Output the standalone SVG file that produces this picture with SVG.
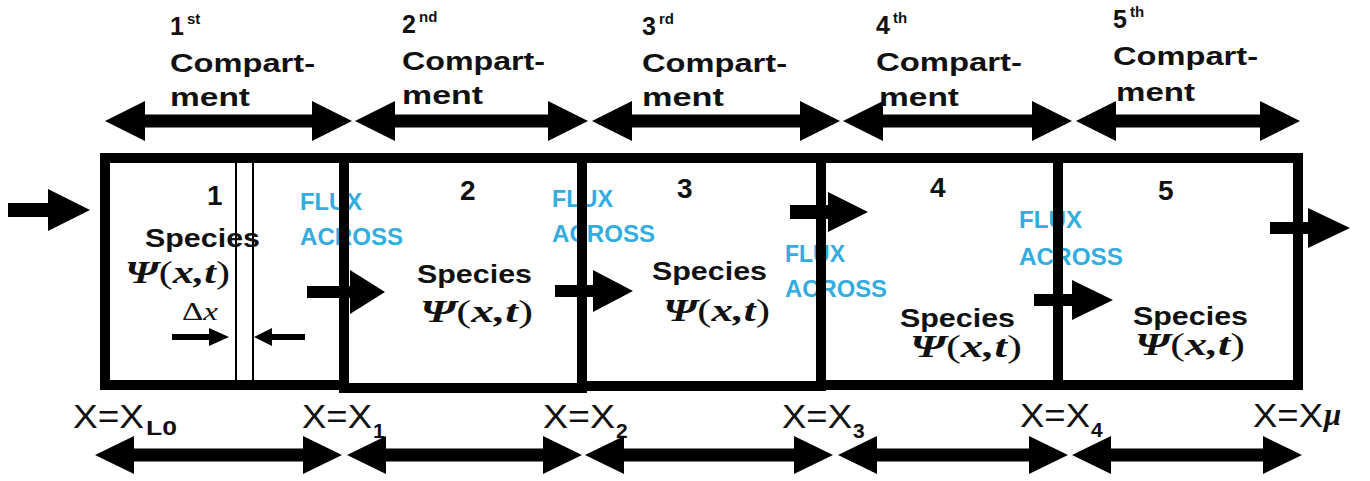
<svg xmlns="http://www.w3.org/2000/svg" width="1370" height="481" viewBox="0 0 1370 481">
<style>
  .box{fill:none;stroke:#000;stroke-width:10}
  .thin{stroke:#000;stroke-width:2}
  .arr{fill:#000}
  .lbl{font-family:"Liberation Sans",Arial,sans-serif;font-weight:bold;font-size:25px;fill:#111}
  .sup{font-family:"Liberation Sans",Arial,sans-serif;font-weight:bold;font-size:15px;fill:#111}
  .num{font-family:"Liberation Sans",Arial,sans-serif;font-weight:bold;font-size:28px;fill:#111}
  .sp{font-family:"Liberation Sans",Arial,sans-serif;font-weight:bold;font-size:25px;fill:#111}
  .psi{font-family:"Liberation Serif","Times New Roman",serif;font-weight:bold;font-style:italic;font-size:31px;fill:#111}
  .par{font-weight:normal;font-style:normal}
  .flux{font-family:"Liberation Sans",Arial,sans-serif;font-weight:bold;font-size:23px;fill:#33ACE0}
  .xl{font-family:"Liberation Sans",Arial,sans-serif;font-size:33px;fill:#111}
  .sub{font-family:"Liberation Sans",Arial,sans-serif;font-weight:bold;font-size:21px;fill:#111}
  .dx{font-family:"Liberation Serif","Times New Roman",serif;font-size:25px;fill:#111}
</style>

<!-- flux labels (drawn beneath the compartment walls) -->
<g id="flux-labels">
  <text class="flux" x="300" y="210" textLength="62" lengthAdjust="spacingAndGlyphs">FLUX</text>
  <text class="flux" x="300" y="245" textLength="103" lengthAdjust="spacingAndGlyphs">ACROSS</text>
  <text class="flux" x="552" y="207" textLength="61" lengthAdjust="spacingAndGlyphs">FLUX</text>
  <text class="flux" x="552" y="242" textLength="103" lengthAdjust="spacingAndGlyphs">ACROSS</text>
  <text class="flux" x="785" y="262" textLength="60" lengthAdjust="spacingAndGlyphs">FLUX</text>
  <text class="flux" x="785" y="297" textLength="102" lengthAdjust="spacingAndGlyphs">ACROSS</text>
  <text class="flux" x="1019" y="228" textLength="63" lengthAdjust="spacingAndGlyphs">FLUX</text>
  <text class="flux" x="1019" y="265" textLength="104" lengthAdjust="spacingAndGlyphs">ACROSS</text>
</g>

<!-- compartments -->
<g id="compartment-1">
  <rect class="box" x="105" y="158" width="239" height="227"/>
  <line class="thin" x1="236" y1="163" x2="236" y2="380"/>
  <line class="thin" x1="253" y1="163" x2="253" y2="380"/>
  <text class="num" x="207" y="205">1</text>
  <text class="sp" x="145" y="247" textLength="115" lengthAdjust="spacingAndGlyphs">Species</text>
  <text class="psi" x="125" y="283" textLength="105" lengthAdjust="spacingAndGlyphs">Ψ<tspan class="par">(</tspan>x,t<tspan class="par">)</tspan></text>
  <text class="dx" x="182" y="320" textLength="36" lengthAdjust="spacingAndGlyphs">Δ<tspan font-style="italic">x</tspan></text>
</g>
<g id="compartment-2">
  <rect class="box" x="344" y="158" width="238" height="230"/>
  <text class="num" x="460" y="200">2</text>
  <text class="sp" x="417" y="283" textLength="115" lengthAdjust="spacingAndGlyphs">Species</text>
  <text class="psi" x="420" y="322" textLength="113" lengthAdjust="spacingAndGlyphs">Ψ<tspan class="par">(</tspan>x,t<tspan class="par">)</tspan></text>
</g>
<g id="compartment-3">
  <rect class="box" x="582" y="158" width="239" height="228"/>
  <text class="num" x="677" y="198">3</text>
  <text class="sp" x="652" y="280" textLength="115" lengthAdjust="spacingAndGlyphs">Species</text>
  <text class="psi" x="663" y="321" textLength="107" lengthAdjust="spacingAndGlyphs">Ψ<tspan class="par">(</tspan>x,t<tspan class="par">)</tspan></text>
</g>
<g id="compartment-4">
  <rect class="box" x="821" y="158" width="237" height="227"/>
  <text class="num" x="930" y="197">4</text>
  <text class="sp" x="900" y="327" textLength="115" lengthAdjust="spacingAndGlyphs">Species</text>
  <text class="psi" x="910" y="357" textLength="112" lengthAdjust="spacingAndGlyphs">Ψ<tspan class="par">(</tspan>x,t<tspan class="par">)</tspan></text>
</g>
<g id="compartment-5">
  <rect class="box" x="1058" y="158" width="240" height="227"/>
  <text class="num" x="1158" y="200">5</text>
  <text class="sp" x="1133" y="325" textLength="115" lengthAdjust="spacingAndGlyphs">Species</text>
  <text class="psi" x="1135" y="355" textLength="110" lengthAdjust="spacingAndGlyphs">Ψ<tspan class="par">(</tspan>x,t<tspan class="par">)</tspan></text>
</g>

<!-- top compartment labels -->
<g id="label-1st">
  <text class="lbl" x="170" y="35">1</text><text class="sup" x="187" y="24">st</text>
  <text class="lbl" x="170" y="72" textLength="145" lengthAdjust="spacingAndGlyphs">Compart-</text>
  <text class="lbl" x="170" y="106" textLength="80" lengthAdjust="spacingAndGlyphs">ment</text>
</g>
<g id="label-2nd">
  <text class="lbl" x="402" y="33">2</text><text class="sup" x="419" y="22">nd</text>
  <text class="lbl" x="402" y="70" textLength="143" lengthAdjust="spacingAndGlyphs">Compart-</text>
  <text class="lbl" x="402" y="104" textLength="81" lengthAdjust="spacingAndGlyphs">ment</text>
</g>
<g id="label-3rd">
  <text class="lbl" x="642" y="35">3</text><text class="sup" x="659" y="24">rd</text>
  <text class="lbl" x="642" y="72" textLength="145" lengthAdjust="spacingAndGlyphs">Compart-</text>
  <text class="lbl" x="642" y="106" textLength="82" lengthAdjust="spacingAndGlyphs">ment</text>
</g>
<g id="label-4th">
  <text class="lbl" x="876" y="34">4</text><text class="sup" x="893" y="23">th</text>
  <text class="lbl" x="876" y="71" textLength="146" lengthAdjust="spacingAndGlyphs">Compart-</text>
  <text class="lbl" x="879" y="106" textLength="80" lengthAdjust="spacingAndGlyphs">ment</text>
</g>
<g id="label-5th">
  <text class="lbl" x="1113" y="28">5</text><text class="sup" x="1130" y="17">th</text>
  <text class="lbl" x="1113" y="65" textLength="145" lengthAdjust="spacingAndGlyphs">Compart-</text>
  <text class="lbl" x="1116" y="101" textLength="79" lengthAdjust="spacingAndGlyphs">ment</text>
</g>

<!-- boundary labels -->
<g id="label-XL0">
  <text class="xl" x="73" y="428" textLength="71" lengthAdjust="spacingAndGlyphs">X=X</text>
  <text class="sub" x="146" y="435" textLength="31" lengthAdjust="spacingAndGlyphs">L0</text>
</g>
<g id="label-X1">
  <text class="xl" x="302" y="428" textLength="70" lengthAdjust="spacingAndGlyphs">X=X</text>
  <text class="sub" x="373" y="438">1</text>
</g>
<g id="label-X2">
  <text class="xl" x="543" y="428" textLength="72" lengthAdjust="spacingAndGlyphs">X=X</text>
  <text class="sub" x="616" y="438">2</text>
</g>
<g id="label-X3">
  <text class="xl" x="782" y="428" textLength="70" lengthAdjust="spacingAndGlyphs">X=X</text>
  <text class="sub" x="853" y="438">3</text>
</g>
<g id="label-X4">
  <text class="xl" x="1020" y="427" textLength="70" lengthAdjust="spacingAndGlyphs">X=X</text>
  <text class="sub" x="1091" y="437">4</text>
</g>
<g id="label-Xmu">
  <text class="xl" x="1253" y="427" textLength="70" lengthAdjust="spacingAndGlyphs">X=X</text>
  <text class="psi" x="1324" y="425" font-size="30">μ</text>
</g>

<!-- connectors -->
<g id="connectors" class="arr">
  <!-- top double arrows (compartment extents) -->
  <polygon points="105,121 145,101 145,114.5 312,114.5 312,101 352,121 312,141 312,127.5 145,127.5 145,141"/>
  <polygon points="355,121 395,101 395,114.5 548,114.5 548,101 588,121 548,141 548,127.5 395,127.5 395,141"/>
  <polygon points="592,121 632,101 632,114.5 800,114.5 800,101 840,121 800,141 800,127.5 632,127.5 632,141"/>
  <polygon points="843,121 883,101 883,114.5 1032,114.5 1032,101 1072,121 1032,141 1032,127.5 883,127.5 883,141"/>
  <polygon points="1076,121 1116,101 1116,114.5 1260,114.5 1260,101 1300,121 1260,141 1260,127.5 1116,127.5 1116,141"/>
  <!-- bottom double arrows -->
  <polygon points="95,455 134,436 134,448.5 303,448.5 303,436 342,455 303,474 303,461.5 134,461.5 134,474"/>
  <polygon points="347,455 386,436 386,448.5 543,448.5 543,436 582,455 543,474 543,461.5 386,461.5 386,474"/>
  <polygon points="585,455 624,436 624,448.5 794,448.5 794,436 833,455 794,474 794,461.5 624,461.5 624,474"/>
  <polygon points="838,455 877,436 877,448.5 1029,448.5 1029,436 1068,455 1029,474 1029,461.5 877,461.5 877,474"/>
  <polygon points="1072,455 1111,436 1111,448.5 1263,448.5 1263,436 1302,455 1263,474 1263,461.5 1111,461.5 1111,474"/>
  <!-- inflow -->
  <polygon points="8,203 48,203 48,189 90,210 48,231 48,217 8,217"/>
  <!-- flux arrows -->
  <polygon points="307,286 350,286 350,270 385,292 350,314 350,298 307,298"/>
  <polygon points="555,285 593,285 593,270 633,291 593,312 593,297 555,297"/>
  <polygon points="790,205 828,205 828,192 868,212 828,232 828,219 790,219"/>
  <polygon points="1034,294 1072,294 1072,280 1113,300 1072,320 1072,306 1034,306"/>
  <!-- outflow -->
  <polygon points="1270,222 1308,222 1308,208 1350,228 1308,248 1308,234 1270,234"/>
  <!-- delta x markers -->
  <polygon points="172,334 209,334 209,328 229,337 209,346 209,340 172,340"/>
  <polygon points="305,334 272,334 272,328 254,337 272,346 272,340 305,340"/>
</g>
</svg>
